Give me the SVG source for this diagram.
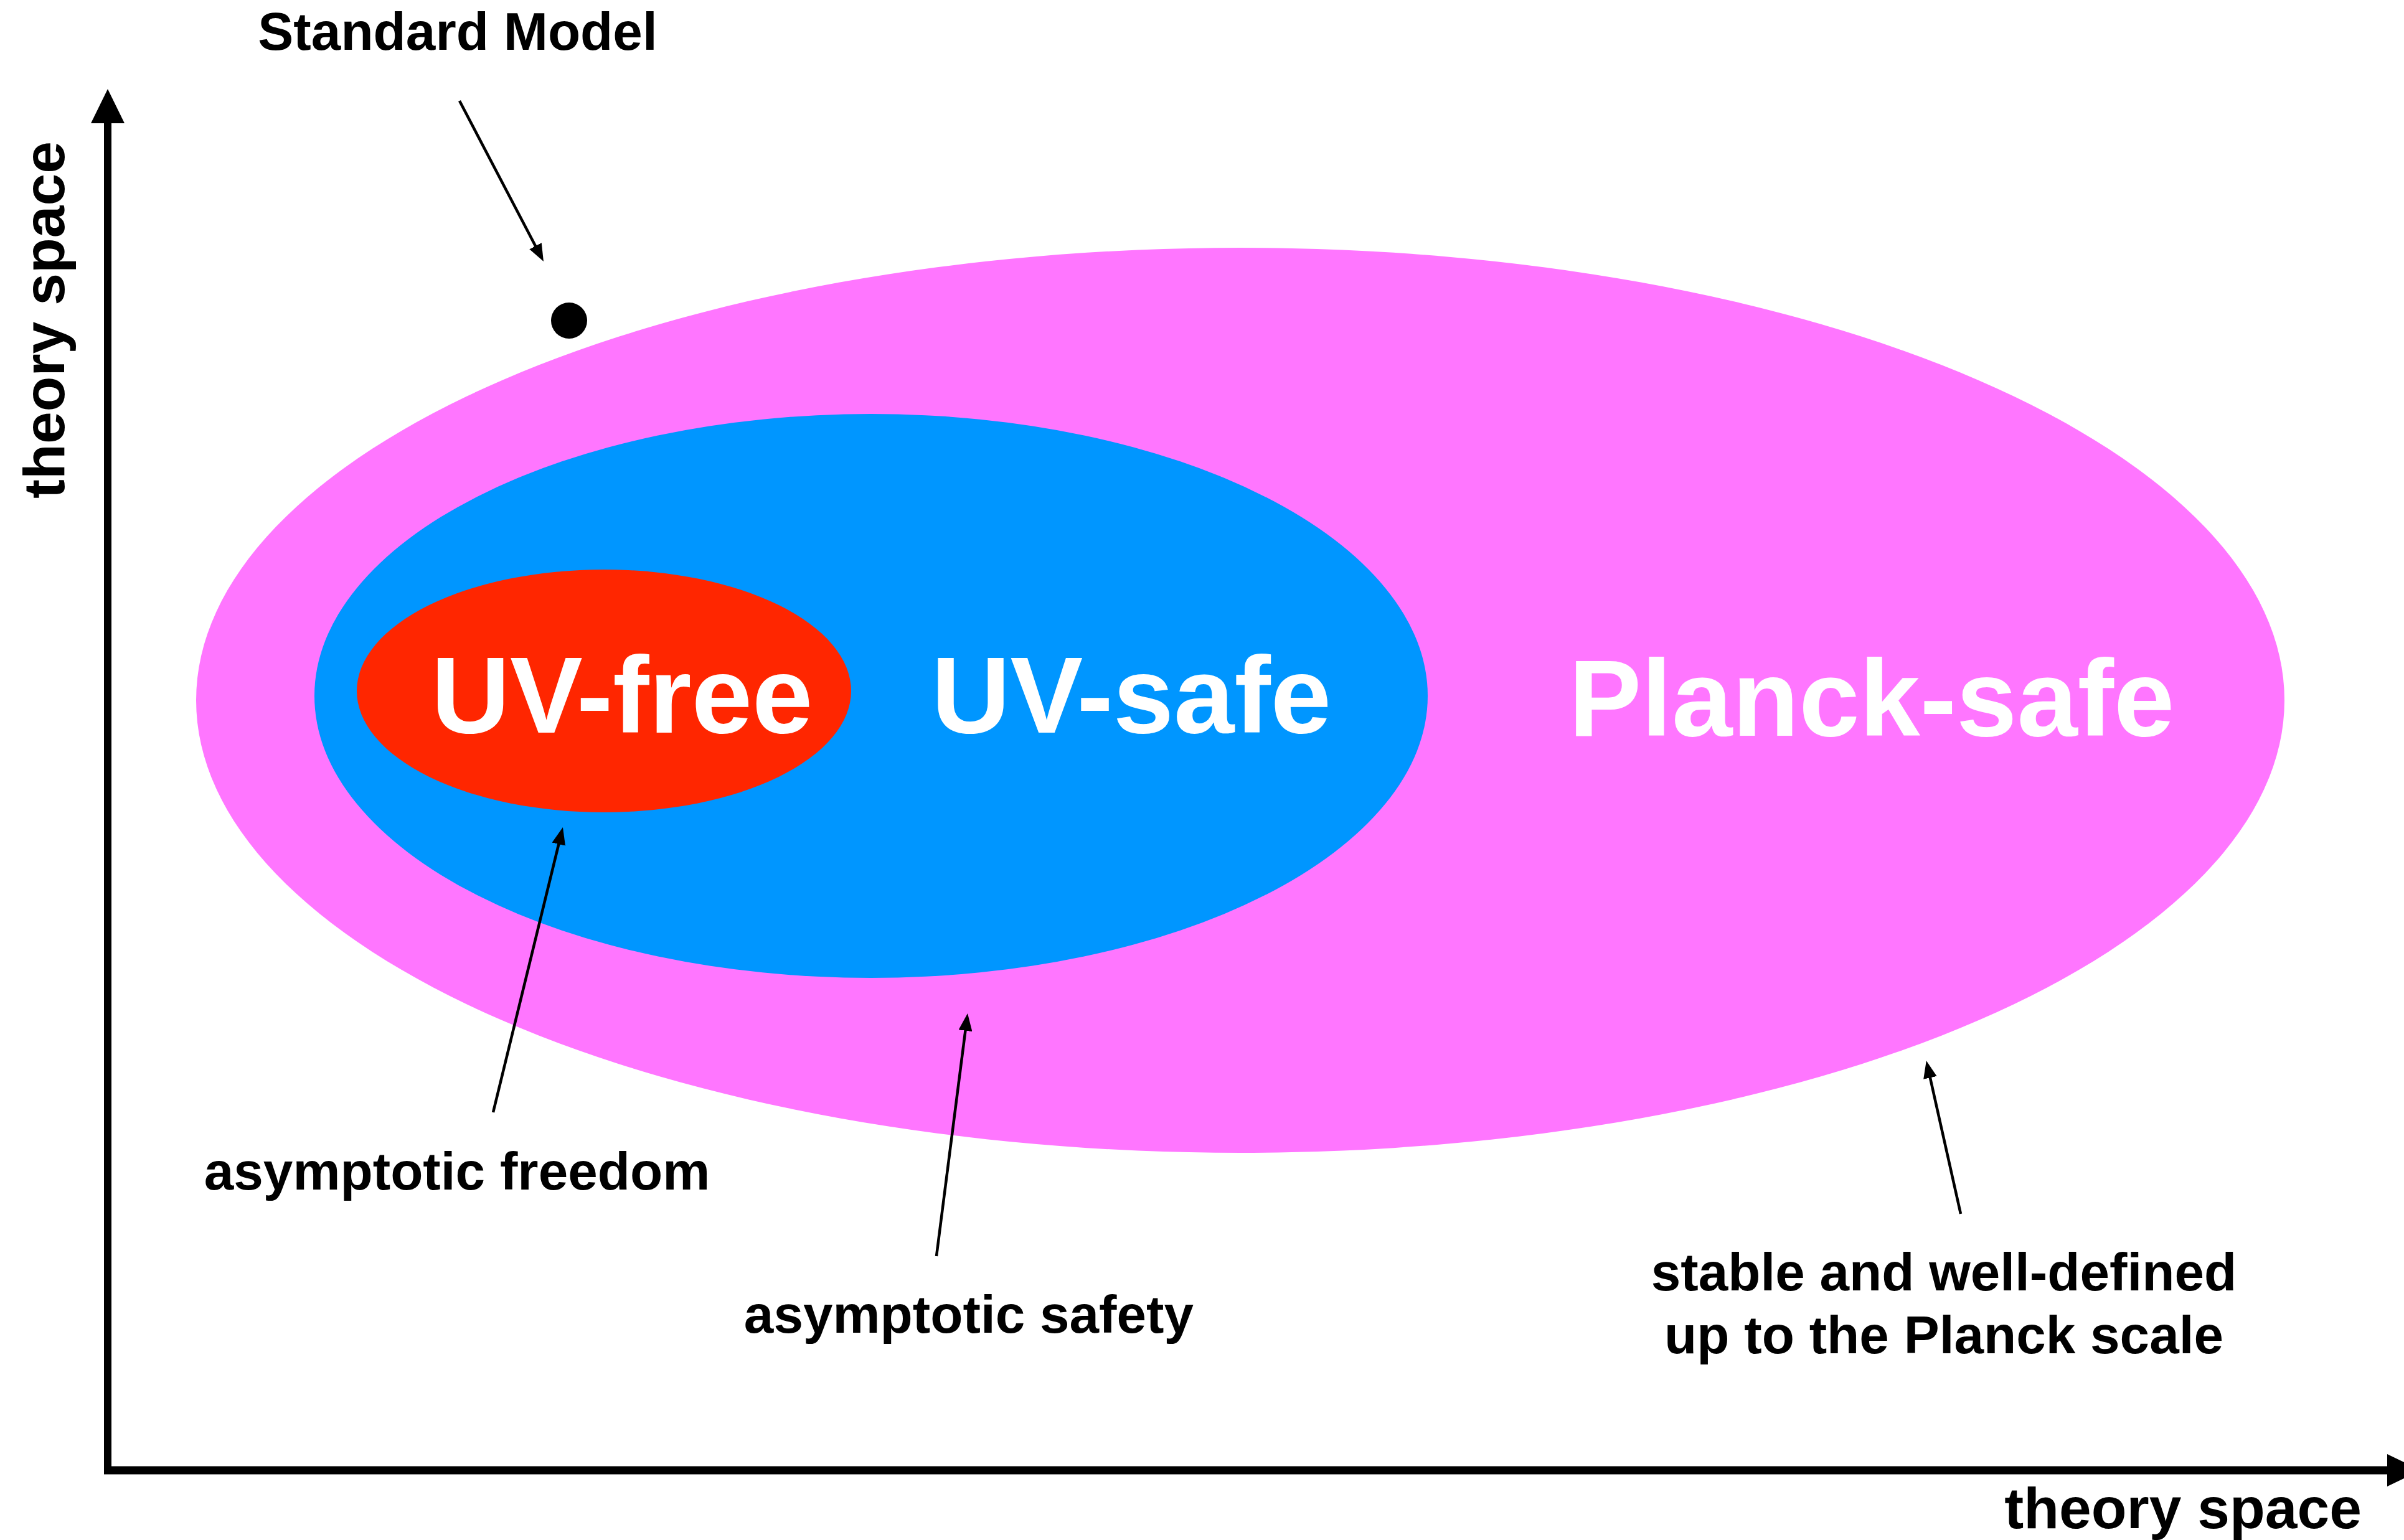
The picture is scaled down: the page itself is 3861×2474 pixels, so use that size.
<svg xmlns="http://www.w3.org/2000/svg" width="3861" height="2474" viewBox="0 0 3861 2474">
<style>
text{font-family:"Liberation Sans",Arial,Helvetica,sans-serif;font-weight:bold}
.lbl{font-size:85.5px;fill:#000}
.ax{font-size:93px;fill:#000}
.big{font-size:175px;fill:#fff}
.ptr{stroke:#000;stroke-width:4.5;fill:none;marker-end:url(#ah)}
</style>
<defs>
<marker id="ah" viewBox="0 0 28 22" refX="8" refY="11" markerWidth="28" markerHeight="22" markerUnits="userSpaceOnUse" orient="auto">
<path d="M0,0 L28,11 L0,22 z" fill="#000"/>
</marker>
</defs>
<rect width="3861" height="2474" fill="#fff"/>
<g id="planck-safe">
<ellipse cx="1992" cy="1125" rx="1677" ry="727" fill="#FF76FF"/>
<text class="big" x="3006" y="1182" text-anchor="middle">Planck-safe</text>
</g>
<g id="uv-safe">
<ellipse cx="1399" cy="1118" rx="894" ry="453" fill="#0096FF"/>
<text class="big" x="1817" y="1177" text-anchor="middle">UV-safe</text>
</g>
<g id="uv-free">
<ellipse cx="970" cy="1110" rx="397" ry="195" fill="#FF2600"/>
<text class="big" x="999" y="1177" text-anchor="middle">UV-free</text>
</g>
<g id="standard-model">
<circle cx="914" cy="515" r="29" fill="#000"/>
<text class="lbl" x="735" y="80" text-anchor="middle">Standard Model</text>
</g>
<g id="label-af">
<text class="lbl" x="734" y="1911" text-anchor="middle">asymptotic freedom</text>
</g>
<g id="label-as">
<text class="lbl" x="1556" y="2141" text-anchor="middle">asymptotic safety</text>
</g>
<g id="label-planck">
<text class="lbl" x="3122" y="2073" text-anchor="middle">stable and well-defined</text>
<text class="lbl" x="3122" y="2174" text-anchor="middle">up to the Planck scale</text>
</g>
<g id="axes">
<line x1="173" y1="2368" x2="173" y2="196" stroke="#000" stroke-width="12"/>
<polygon points="146,198 200,198 173,143" fill="#000"/>
<line x1="167" y1="2362" x2="3836" y2="2362" stroke="#000" stroke-width="13"/>
<polygon points="3834,2336 3834,2388 3888,2362" fill="#000"/>
<text class="ax" transform="translate(103,514) rotate(-90)" text-anchor="middle">theory space</text>
<text class="ax" x="3793" y="2455" text-anchor="end">theory space</text>
</g>
<g id="connectors">
<line class="ptr" x1="738" y1="162" x2="863.7" y2="402.3"/>
<line class="ptr" x1="792" y1="1787" x2="899.2" y2="1348.4"/>
<line class="ptr" x1="1504" y1="2018" x2="1551.5" y2="1647.8"/>
<line class="ptr" x1="3149" y1="1950" x2="3098.2" y2="1723.6"/>
</g>
</svg>
